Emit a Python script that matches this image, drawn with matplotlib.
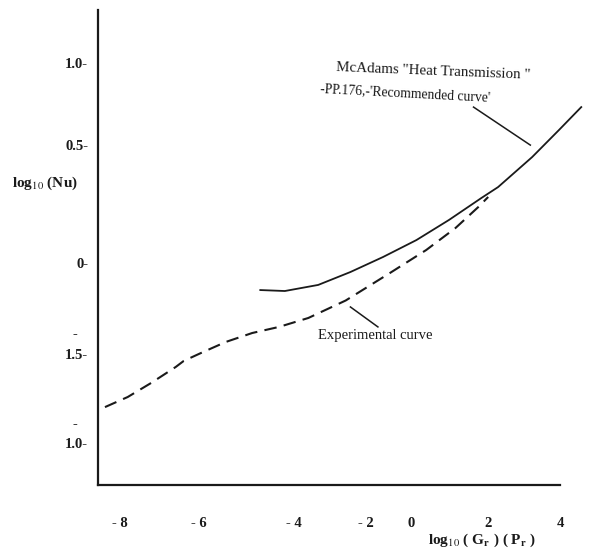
import matplotlib
matplotlib.use("Agg")
import matplotlib.pyplot as plt

plt.rcParams['font.family'] = ['Liberation Serif', 'DejaVu Serif']
plt.rcParams['mathtext.fontset'] = 'stix'

# McAdams "recommended curve" (solid)
mc_x = [-4.18, -3.51, -2.60, -1.72, -0.83, 0.08, 0.97, 1.85, 2.31, 3.24, 3.97, 4.58]
mc_y = [-0.195, -0.200, -0.168, -0.100, -0.021, 0.068, 0.174, 0.289, 0.347, 0.505, 0.647, 0.768]

# Experimental curve (dashed)
ex_x = [-8.42, -7.80, -7.16, -6.49, -6.27, -5.74, -5.12, -4.40, -3.67, -2.87,
        -1.85, -0.64, 0.35, 1.15, 1.77, 2.04]
ex_y = [-0.811, -0.758, -0.684, -0.600, -0.568, -0.521, -0.468, -0.421, -0.389, -0.342,
        -0.250, -0.105, 0.016, 0.132, 0.242, 0.295]

# tick labels (placed where they appear on the scanned figure)
xtick_pos = [-8.0, -5.86, -3.27, -1.31, -0.05, 2.04, 4.0]
xtick_lab = ['- 8', '- 6', '- 4', '- 2', '0', '2', '4']
ytick_pos = [1.0, 0.57, -0.05, -0.53, -1.0]
ytick_lab = ['1.0-', '0.5-', '0-', '1.5-', '1.0-']

W, H = 592, 560
fig = plt.figure(figsize=(W / 100, H / 100), dpi=100)
ax = fig.add_axes([98 / W, 1 - 485 / H, (560 - 98) / W, (485 - 10) / H])
ax.set_xlim(-8.61, 3.78)
ax.set_ylim(-1.221, 1.279)

for s in ['top', 'right']:
    ax.spines[s].set_visible(False)
for s in ['left', 'bottom']:
    ax.spines[s].set_linewidth(1.6)
    ax.spines[s].set_color('#1a1a1a')

ax.plot(mc_x, mc_y, color='#1a1a1a', lw=1.3, clip_on=False, solid_joinstyle='round')
ax.plot(ex_x, ex_y, color='#1a1a1a', lw=1.5, dashes=(6, 3.5), clip_on=False)

# pointer lines
ax.plot([1.64, 3.19], [0.768, 0.568], color='#1a1a1a', lw=1.1)
ax.plot([-1.72, -0.97], [-0.284, -0.389], color='#1a1a1a', lw=1.1)

ax.set_xticks(xtick_pos, xtick_lab)
ax.set_yticks(ytick_pos, ytick_lab)
ax.tick_params(axis='both', length=0, labelsize=10.5, colors='#1a1a1a')
ax.tick_params(axis='y', pad=7)
ax.tick_params(axis='x', pad=23)
for t in ax.get_xticklabels() + ax.get_yticklabels():
    t.set_fontweight('bold')

def fx(px):
    return px / W

def fy(py):
    return 1 - py / H

# minus signs printed above the negative labels
fig.text(fx(75), fy(335), '-', ha='center', va='center', fontsize=10.5, fontweight='bold')
fig.text(fx(75), fy(425), '-', ha='center', va='center', fontsize=10.5, fontweight='bold')

fig.text(fx(12), fy(183), r'log$_{10}$ (Nu)', ha='left', va='center', fontsize=11,
         fontweight='bold', color='#1a1a1a')
fig.text(fx(482), fy(540), r'log$_{10}$ ( G$_{\mathbf{r}}$ ) ( P$_{\mathbf{r}}$ )',
         ha='center', va='center', fontsize=11, fontweight='bold', color='#1a1a1a')

fig.text(fx(336), fy(71), 'McAdams "Heat Transmission "', ha='left', va='center',
         fontsize=10.8, rotation=-2.3, color='#1a1a1a')
fig.text(fx(320), fy(93), "-PP.176,-'Recommended curve'", ha='left', va='center',
         fontsize=9.8, rotation=-3, color='#1a1a1a')
fig.text(fx(318), fy(335), 'Experimental curve', ha='left', va='center',
         fontsize=10.5, color='#1a1a1a')

fig.savefig('out.png', dpi=100, facecolor='white')
